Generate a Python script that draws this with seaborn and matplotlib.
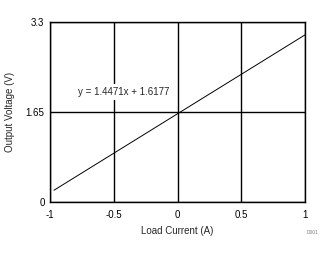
import matplotlib
matplotlib.use("Agg")
import matplotlib.pyplot as plt
import seaborn as sns
import pandas as pd

load_current = [-0.97, -0.5, 0.0, 0.5, 1.0]
output_voltage = [0.214, 0.894, 1.618, 2.341, 3.065]
x_ticks = [-1, -0.5, 0, 0.5, 1]
x_tick_labels = ["-1", "-0.5", "0", "0.5", "1"]
y_ticks = [0, 1.65, 3.3]
y_tick_labels = ["0", "1.65", "3.3"]
equation = "y = 1.4471x + 1.6177"

sns.set_style("white")
plt.rcParams['font.family'] = ['Liberation Sans', 'DejaVu Sans']

df = pd.DataFrame({"x": load_current, "y": output_voltage})

fig = plt.figure(figsize=(3.34, 2.54), dpi=100)
ax = fig.add_axes([0.15, 0.205, 0.763, 0.708])
sns.lineplot(data=df, x="x", y="y", ax=ax, color="black", linewidth=0.7)

ax.set_xlim(-1, 1)
ax.set_ylim(0, 3.3)
ax.set_xticks(x_ticks)
ax.set_xticklabels(x_tick_labels)
ax.set_yticks(y_ticks)
ax.set_yticklabels(y_tick_labels)
ax.tick_params(axis="x", labelsize=7, length=0, pad=6, colors="black")
ax.tick_params(axis="y", labelsize=7, length=0, pad=4, colors="black")
ax.grid(True, color="black", linewidth=1.0)
ax.set_axisbelow(True)
for s in ax.spines.values():
    s.set_color("black")
    s.set_linewidth(1.0)

ax.set_xlabel("Load Current (A)", fontsize=7, labelpad=4)
ax.set_ylabel("Output Voltage (V)", fontsize=7, labelpad=8)

ax.text(-0.42, 2.02, equation, fontsize=7, ha="center", va="center",
        bbox=dict(facecolor="white", edgecolor="none", pad=2))

fig.text(0.937, 0.083, "D001", fontsize=3.5, color="#808080", ha="center", va="center")

fig.savefig("out.png", dpi=100)
